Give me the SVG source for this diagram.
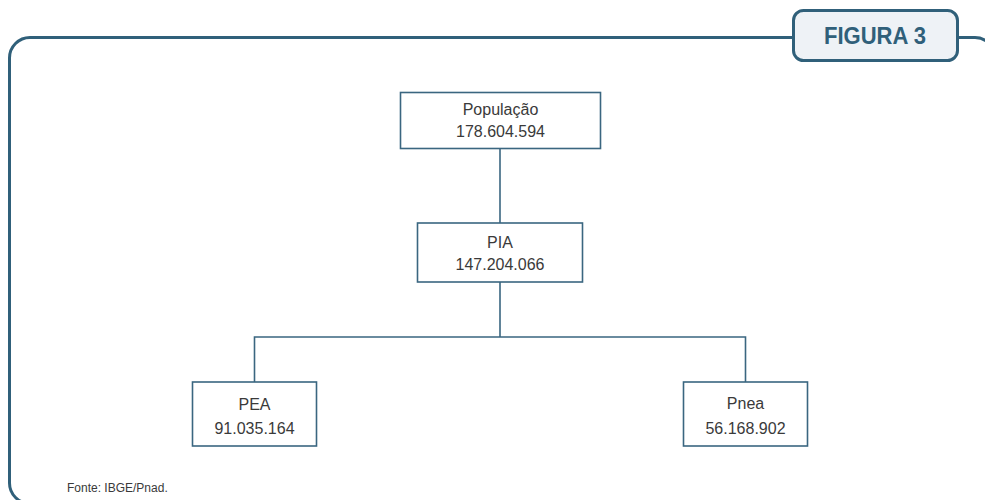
<svg xmlns="http://www.w3.org/2000/svg" width="985" height="500" viewBox="0 0 985 500">
<style>
.frame{fill:none;stroke:#30607a;stroke-width:3}
.node{fill:#ffffff;stroke:#3a6680;stroke-width:1.6}
.conn{fill:none;stroke:#3a6680;stroke-width:1.6}
.t{font-family:"Liberation Sans",Arial,sans-serif;font-size:16px;fill:#3a3a3a;text-anchor:middle}
.title{font-family:"Liberation Sans",Arial,sans-serif;font-size:23px;font-weight:bold;fill:#30607a;text-anchor:middle}
.src{font-family:"Liberation Sans",Arial,sans-serif;font-size:12px;fill:#3a3a3a}
</style>
<rect width="985" height="500" fill="#ffffff"/>
<g id="frame">
<path class="frame" d="M792,37.5 H30 A20.5,20.5 0 0 0 9.5,58 V483 A20.5,20.5 0 0 0 30,503.5"/>
<path class="frame" d="M958,37.5 H975 A20,20 0 0 1 995,57.5"/>
</g>
<g id="title">
<rect x="793.5" y="10.5" width="164" height="50" rx="10" ry="10" fill="#eef2f6" stroke="#30607a" stroke-width="3"/>
<text class="title" x="875" y="43.5" textLength="102" lengthAdjust="spacingAndGlyphs">FIGURA 3</text>
</g>
<g id="connectors">
<line class="conn" x1="500" y1="148.5" x2="500" y2="223"/>
<path class="conn" d="M500,282 V337 M254.5,382 V337 H745.5 V382"/>
</g>
<g id="populacao">
<rect class="node" x="400.5" y="92.5" width="200" height="56"/>
<text class="t" x="500.5" y="115">População</text>
<text class="t" x="500.5" y="137">178.604.594</text>
</g>
<g id="pia">
<rect class="node" x="417.5" y="223" width="165" height="59"/>
<text class="t" x="500" y="248">PIA</text>
<text class="t" x="500" y="270">147.204.066</text>
</g>
<g id="pea">
<rect class="node" x="192.5" y="382" width="124" height="64"/>
<text class="t" x="254.5" y="410">PEA</text>
<text class="t" x="254.5" y="434">91.035.164</text>
</g>
<g id="pnea">
<rect class="node" x="683.5" y="382" width="124" height="64"/>
<text class="t" x="745.5" y="409">Pnea</text>
<text class="t" x="745.5" y="434">56.168.902</text>
</g>
<text class="src" x="67" y="492">Fonte: IBGE/Pnad.</text>
</svg>
